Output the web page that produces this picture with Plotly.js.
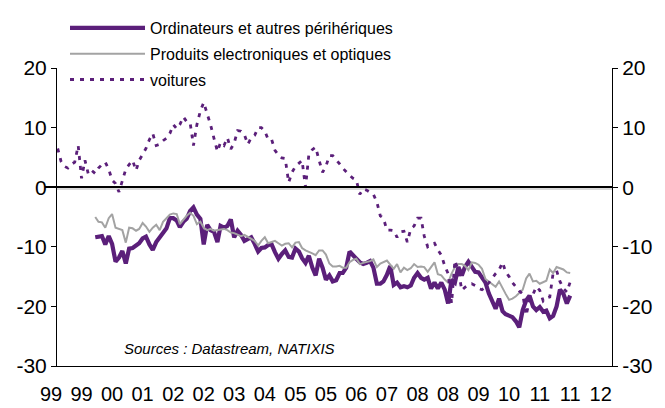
<!DOCTYPE html>
<html><head><meta charset="utf-8">
<script src="https://cdn.plot.ly/plotly-3.0.1.min.js"></script>
<style>html,body{margin:0;padding:0;background:#fff}#chart{width:665px;height:408px}</style>
</head><body><div id="chart"></div>
<script>
// monthly series (year-on-year %)
const ordinateursStart = [2000, 2];
const ordinateurs = [
-8.4,-8.3,-8.2,-9.6,-8.2,-9.5,-12.5,-11.8,-10.7,-12.8,
-10.3,-10.2,-9.8,-9.4,-8.6,-8.3,-9.6,-10.5,-9.2,-8.4,
-7.7,-6.9,-5.2,-5.2,-5.6,-6.7,-5.8,-5.3,-4.0,-3.4,
-4.6,-5.3,-9.6,-6.3,-7.2,-7.5,-9.2,-6.5,-6.8,-6.5,
-5.4,-8.4,-7.3,-8.0,-9.0,-8.6,-8.4,-9.5,-10.8,-10.2,
-10.1,-9.7,-9.6,-10.9,-12.0,-11.2,-10.6,-11.7,-11.8,-10.3,
-10.8,-11.9,-12.7,-11.5,-13.5,-14.8,-12.0,-13.5,-15.5,-14.8,
-15.8,-15.6,-14.4,-14.4,-13.5,-10.8,-11.3,-12.0,-12.6,-12.9,
-12.7,-12.4,-13.5,-16.2,-16.2,-15.8,-14.7,-13.2,-16.4,-16.0,
-16.8,-16.6,-16.8,-16.5,-15.2,-14.4,-15.2,-15.5,-15.2,-17.0,
-16.0,-17.0,-16.0,-17.2,-19.5,-15.5,-16.0,-13.4,-14.8,-13.4,
-12.5,-13.5,-14.2,-14.3,-15.1,-16.0,-17.8,-19.3,-20.4,-18.7,
-20.8,-21.3,-21.5,-21.8,-22.5,-23.5,-20.6,-19.0,-18.2,-20.0,
-20.6,-20.1,-20.9,-20.7,-22.0,-21.6,-20.0,-17.2,-17.9,-19.5,
-18.2];
const produitsStart = [2000, 2];
const produits = [
-5.0,-5.8,-5.9,-6.8,-5.2,-4.5,-6.8,-7.0,-7.2,-9.3,
-6.8,-6.9,-7.3,-7.0,-6.0,-6.6,-7.5,-6.8,-6.3,-7.2,
-5.8,-5.2,-4.6,-4.4,-4.5,-6.2,-5.5,-4.8,-4.3,-4.8,
-6.2,-5.8,-6.8,-7.2,-7.0,-7.3,-7.2,-7.1,-7.0,-7.2,
-7.6,-7.7,-7.9,-8.2,-8.0,-8.3,-8.7,-9.0,-9.8,-9.0,
-8.4,-9.4,-9.2,-9.0,-9.4,-9.8,-9.5,-9.4,-10.1,-9.3,
-9.2,-10.2,-10.6,-10.8,-11.1,-11.4,-10.6,-10.6,-11.3,-12.8,
-13.3,-13.3,-13.2,-13.5,-13.5,-12.6,-12.2,-12.0,-12.9,-12.7,
-12.6,-12.4,-12.1,-13.4,-12.8,-12.5,-12.3,-13.0,-13.7,-12.9,
-14.3,-13.5,-13.9,-13.6,-12.9,-13.4,-13.3,-13.4,-14.2,-13.4,
-12.6,-14.6,-14.8,-15.5,-16.0,-14.5,-13.4,-12.9,-12.9,-13.2,
-13.9,-12.6,-12.7,-13.0,-13.7,-15.4,-15.8,-16.3,-16.7,-15.8,
-17.0,-17.9,-18.9,-18.7,-18.3,-17.8,-17.2,-15.3,-14.5,-15.8,
-15.7,-16.2,-16.0,-15.7,-13.8,-14.4,-13.4,-13.6,-13.8,-14.3,
-14.4];
const voituresStart = [1999, 3];
const voitures = [
6.5,4.3,3.5,3.2,3.8,4.2,7.0,1.5,4.5,2.2,
2.8,2.3,3.2,3.8,4.2,3.0,1.2,0.6,-0.8,1.2,
3.0,3.8,4.5,2.8,4.5,5.5,6.5,8.0,9.0,7.0,
7.2,7.8,8.2,9.0,10.5,9.8,10.5,11.8,11.0,10.8,
7.0,10.5,12.8,14.2,12.5,10.5,8.2,6.0,7.5,7.0,
8.3,6.4,7.4,9.5,9.4,8.8,7.2,8.3,8.7,10.0,
10.0,9.4,8.0,8.0,6.2,5.4,4.9,4.8,0.8,2.5,
3.5,4.0,4.5,0.0,5.5,6.3,6.7,4.5,2.5,3.5,
5.3,5.3,4.5,3.9,3.2,2.5,2.0,1.5,1.2,-1.2,
-0.3,-0.5,-0.8,-1.2,-2.5,-4.8,-5.2,-7.2,-7.2,-7.3,
-8.4,-7.5,-7.4,-9.2,-7.0,-6.5,-5.2,-5.2,-8.2,-10.0,
-9.6,-9.4,-10.5,-11.4,-13.2,-14.5,-19.5,-12.3,-14.0,-17.3,
-16.8,-16.4,-16.2,-16.5,-17.0,-17.2,-16.8,-16.0,-15.2,-14.5,
-13.9,-12.6,-14.2,-15.0,-16.0,-16.8,-17.4,-17.9,-21.5,-19.0,
-18.0,-16.7,-17.3,-19.1,-18.6,-18.4,-14.4,-14.0,-15.8,-17.0,
-17.6,-15.9];
const seriesNames = ['Ordinateurs et autres périhériques', 'Produits electroniques et optiques', 'voitures'];
const tickDates = ['1999-01-01','1999-10-01','2000-07-01','2001-04-01','2002-01-01','2002-10-01','2003-07-01','2004-04-01','2005-01-01','2005-10-01','2006-07-01','2007-04-01','2008-01-01','2008-10-01','2009-07-01','2010-04-01','2011-01-01','2011-10-01','2012-07-01'];
const tickLabels = ['99','99','00','01','02','02','03','04','05','05','06','07','08','08','09','10','11','11','12'];
const yTicks = [-30,-20,-10,0,10,20];
const yTickLabels = ['-30','-20','-10','0','10','20'];

function monthDates(start, n) {
  const out = [];
  let y = start[0], m = start[1];
  for (let i = 0; i < n; i++) {
    out.push(y + '-' + String(m).padStart(2, '0') + '-01');
    m++; if (m > 12) { m = 1; y++; }
  }
  return out;
}
function fmt(ms) { return new Date(ms).toISOString().replace('T', ' ').replace('Z', ''); }

const purple = '#5b1f7a';
const grey = '#a3a3a3';
const font = '"Liberation Sans", Arial, sans-serif';

// plot geometry: label axis spans full width, data axis starts 12px later
const L = 45, R = 53, T = 67, B = 42, W = 665 - L - R, H = 408 - T - B;
const pad = 12;
const x0 = Date.UTC(1999, 1, 23), x1 = Date.UTC(2012, 9, 10);
const x2start = x0 - (x1 - x0) * pad / (W - pad);

const traces = [
  {x: monthDates(ordinateursStart, ordinateurs.length), y: ordinateurs, name: seriesNames[0], legendgroup: 'a',
   mode: 'lines', line: {color: purple, width: 4.2}},
  {x: monthDates(produitsStart, produits.length), y: produits, name: seriesNames[1], legendgroup: 'b',
   mode: 'lines', line: {color: grey, width: 2}},
  {x: monthDates(voituresStart, voitures.length), y: voitures, name: seriesNames[2], legendgroup: 'c',
   mode: 'lines', line: {color: purple, width: 2.8, dash: '4px,6px'}},
  {x: [tickDates[0]], y: [null], xaxis: 'x2', yaxis: 'y', showlegend: false, hoverinfo: 'skip', mode: 'lines'},
  {x: [tickDates[1]], y: [null], xaxis: 'x', yaxis: 'y2', showlegend: false, hoverinfo: 'skip', mode: 'lines'}
];

const yCommon = {
  range: [-30, 20], tickmode: 'array', tickvals: yTicks, ticktext: yTickLabels, ticks: 'outside', ticklen: 5, tickwidth: 1,
  tickcolor: '#000', showline: true, linecolor: '#000', linewidth: 1, showgrid: false,
  tickfont: {family: font, size: 21, color: '#000'}, fixedrange: true
};

const layout = {
  width: 665, height: 408,
  margin: {l: L, r: R, t: T, b: B, pad: 0},
  paper_bgcolor: '#fff', plot_bgcolor: 'rgba(0,0,0,0)',
  showlegend: true,
  legend: {x: 20 / W, y: 1 + 56 / H, xanchor: 'left', yanchor: 'top',
           font: {family: font, size: 16, color: '#000'}, bgcolor: 'rgba(0,0,0,0)',
           traceorder: 'grouped', tracegroupgap: 2, itemwidth: 75},
  xaxis: {type: 'date', domain: [pad / W, 1], range: [fmt(x0), fmt(x1)], anchor: 'y',
          showline: true, linecolor: '#000', linewidth: 1, ticks: '', showticklabels: false,
          showgrid: false, zeroline: false, fixedrange: true},
  xaxis2: {type: 'date', domain: [0, 1], range: [fmt(x2start), fmt(x1)], anchor: 'y',
           tickmode: 'array', tickvals: tickDates, ticktext: tickLabels, ticks: '',
           showline: false, showgrid: false, zeroline: false, ticklabelstandoff: 14,
           tickfont: {family: font, size: 20, color: '#000'}, fixedrange: true},
  yaxis: Object.assign({}, yCommon, {anchor: 'x', side: 'left', zeroline: true, zerolinecolor: '#000', zerolinewidth: 1.5}),
  yaxis2: Object.assign({}, yCommon, {anchor: 'x', overlaying: 'y', side: 'right', zeroline: false}),
  shapes: [{type: 'line', xref: 'x', yref: 'y', x0: fmt(x0), x1: fmt(x1), y0: -0.3, y1: -0.3,
            line: {color: '#d9d9d9', width: 2}, layer: 'below'}],
  annotations: [{
    text: '<i>Sources : Datastream, NATIXIS</i>', xref: 'paper', yref: 'paper',
    x: (122 - L) / W, y: (366 - 348) / H, xanchor: 'left', yanchor: 'middle',
    showarrow: false, font: {family: font, size: 15, color: '#000'}
  }]
};

Plotly.newPlot('chart', traces, layout, {displayModeBar: false, staticPlot: true});
</script>
</body></html>
